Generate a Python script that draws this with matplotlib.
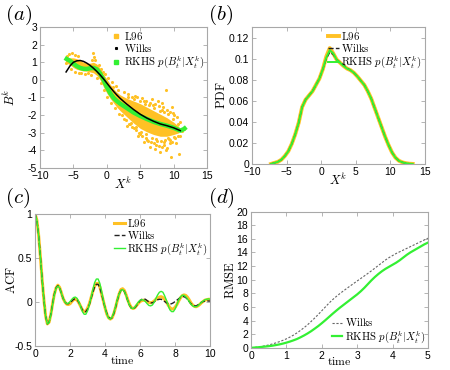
import numpy as np
import matplotlib.pyplot as plt
from matplotlib.lines import Line2D
from matplotlib.ticker import FormatStrFormatter

plt.rcParams['font.family'] = ['Liberation Sans', 'DejaVu Sans']
plt.rcParams['mathtext.fontset'] = 'cm'

orange = '#ffc125'
green = '#33f033'

# ---- panel (a): scatter of B^k against X^k
cloud_x = [-6.2, -5.5, -5.0, -4.5, -4.0, -3.5, -3.0, -2.5, -2.0, -1.5, -1.0, -0.5,
           0.0, 0.5, 1.0, 1.5, 2.0, 3.0, 4.0, 5.0, 6.0, 7.0, 8.0, 9.0, 10.0, 10.8]
cloud_lo = [1.0, 0.85, 0.7, 0.6, 0.55, 0.5, 0.5, 0.45, 0.4, 0.25, 0.0, -0.4,
            -0.75, -1.05, -1.3, -1.55, -1.75, -2.1, -2.45, -2.75, -2.95, -3.1, -3.2, -3.2, -3.1, -3.0]
cloud_hi = [1.25, 1.25, 1.25, 1.2, 1.1, 1.0, 0.95, 0.95, 1.0, 0.9, 0.65, 0.3,
            0.05, -0.25, -0.5, -0.7, -0.85, -1.05, -1.2, -1.35, -1.55, -1.75, -1.95, -2.15, -2.4, -2.65]

l96_x = [-6.0, -5.6, -5.2, -4.7, -4.3, -6.1, -5.3, -4.8, -4.2, -3.8, -3.3, -2.8, -2.3,
         -2.0, -1.9, -1.7, -2.2, -1.2, -0.8, -1.4, -0.9, -0.3, -0.4, 0.2, 0.1, 0.7, 0.6,
         1.2, 1.3, 2.5, 3.2, 3.8, 4.5, 5.2, 5.8, 6.5, 7.2, 7.8, 8.4, 9.0, 9.5, 10.1,
         8.9, 6.8, 7.6, 9.8, 10.5, 4.2, 5.5, 8.2, 2.2, 2.8, 3.3, 3.7, 4.3, 4.8, 5.3,
         5.8, 6.2, 6.6, 7.0, 7.4, 7.8, 8.2, 8.6, 9.0, 9.4, 9.8, 10.2, 10.6, 7.2, 8.0,
         8.8, 9.6, 10.8, 6.4, 5.6, 4.6, 3.0, 9.2, 10.4, 11.0, 11.3, 11.6, 10.9,
         6.0, 7.5, 8.5, 9.5, 5.0, 4.0, 3.5, 6.9, 8.3, 9.9,
         2.6, 3.6, 4.4, 5.1, 5.9, 6.7, 7.3, 8.1, 8.7, 9.3, 10.0, 10.6,
         3.1, 4.1, 4.9, 5.7, 6.3, 7.1, 7.9, 8.6, 9.2, 9.9, 1.8, 1.6, 0.9, -0.6]
l96_y = [1.35, 1.45, 1.5, 1.4, 1.35, 0.95, 0.6, 0.45, 0.4, 0.38, 0.35, 0.4, 0.3,
         1.5, 1.3, 1.15, 1.1, 0.85, 0.6, 0.1, -0.2, 0.35, -0.6, 0.1, -1.0, -0.1, -1.3,
         -1.6, -0.35, -0.7, -0.8, -0.95, -1.0, -1.05, -1.2, -1.3, -1.35, -1.5, -1.55, -1.7, -1.8, -2.0,
         -0.56, -1.1, -1.2, -1.55, -2.1, -0.9, -1.2, -1.3, -2.0, -2.3, -2.5, -2.7, -2.85, -3.0, -3.2,
         -3.3, -3.45, -3.5, -3.6, -3.7, -3.75, -3.8, -3.7, -3.85, -3.6, -3.5, -3.3, -3.2, -3.95, -4.1,
         -4.0, -4.35, -4.2, -3.8, -3.55, -3.2, -2.6, -3.3, -3.6, -3.2, -2.9, -2.8, -2.4,
         -3.4, -3.45, -3.55, -3.4, -3.05, -2.75, -2.5, -1.45, -1.7, -1.9,
         -2.2, -2.45, -2.7, -2.95, -3.1, -3.3, -3.35, -3.45, -3.4, -3.35, -3.25, -2.5,
         -0.95, -1.1, -1.2, -1.35, -1.45, -1.6, -1.75, -1.85, -1.95, -2.2, -1.95, -0.6, -0.4, 0.45]

wilks_x = [-6.1, -5.5, -5.0, -4.5, -4.0, -3.5, -3.0, -2.5, -2.0, -1.5, -1.0, -0.5, 0.0,
           0.5, 1.0, 1.5, 2.0, 2.5, 3.0, 4.0, 5.0, 6.0, 7.0, 8.0, 9.0, 10.0, 11.0]
wilks_y = [0.45, 0.8, 1.0, 1.08, 1.1, 1.05, 0.95, 0.82, 0.66, 0.48, 0.28, 0.06, -0.18,
           -0.42, -0.65, -0.86, -1.05, -1.22, -1.38, -1.68, -1.95, -2.17, -2.35, -2.5, -2.6, -2.72, -2.88]

rkhs_x = [-6.3, -6.0, -5.5, -5.0, -4.5, -4.0, -3.5, -3.0, -2.5, -2.0, -1.5, -1.0, -0.5, 0.0,
          0.5, 1.0, 1.5, 2.0, 3.0, 4.0, 5.0, 6.0, 7.0, 8.0, 9.0, 10.0, 11.0, 11.5, 11.9]
rkhs_y = [1.25, 1.18, 1.08, 0.92, 0.78, 0.68, 0.63, 0.62, 0.66, 0.68, 0.6, 0.36, 0.0, -0.4,
          -0.75, -1.02, -1.2, -1.35, -1.6, -1.85, -2.05, -2.22, -2.38, -2.5, -2.6, -2.72, -2.88, -2.8, -2.68]

# ---- panel (b): PDF of X^k
pdf_x = np.arange(-7.25, 13.3, 0.5)
pdf_l96 = [0.0, 0.001, 0.002, 0.004, 0.0075, 0.012, 0.019, 0.028, 0.039, 0.054,
           0.061, 0.065, 0.069, 0.075, 0.081, 0.090, 0.102, 0.110, 0.105, 0.099,
           0.096, 0.093, 0.0905, 0.089, 0.0865, 0.083, 0.079, 0.075, 0.069, 0.062,
           0.053, 0.044, 0.035, 0.026, 0.018, 0.011, 0.006, 0.003, 0.0015, 0.0007,
           0.0002, 0.0]
pdf_wilks = [0.0, 0.001, 0.002, 0.004, 0.0075, 0.012, 0.019, 0.028, 0.039, 0.054,
             0.061, 0.065, 0.069, 0.075, 0.081, 0.090, 0.100, 0.106, 0.104, 0.099,
             0.0965, 0.094, 0.091, 0.089, 0.0865, 0.083, 0.079, 0.075, 0.069, 0.062,
             0.053, 0.044, 0.035, 0.026, 0.018, 0.011, 0.006, 0.003, 0.0015, 0.0007,
             0.0002, 0.0]
pdf_rkhs = [0.0, 0.001, 0.002, 0.004, 0.0075, 0.012, 0.019, 0.028, 0.039, 0.054,
            0.061, 0.065, 0.069, 0.075, 0.081, 0.090, 0.101, 0.108, 0.105, 0.099,
            0.096, 0.093, 0.0905, 0.089, 0.0865, 0.083, 0.079, 0.075, 0.069, 0.062,
            0.053, 0.044, 0.035, 0.026, 0.018, 0.011, 0.006, 0.003, 0.0015, 0.0007,
            0.0002, 0.0]

# ---- panel (c): ACF
acf_t = np.arange(0, 10.01, 0.1)
acf_l96 = [1.0, 0.93, 0.76, 0.52, 0.26, 0.03, -0.16, -0.25, -0.23, -0.14,
           -0.02, 0.09, 0.16, 0.19, 0.165, 0.105, 0.04, 0.0, -0.025, -0.03,
           -0.02, 0.005, 0.025, 0.03, 0.02, -0.01, -0.05, -0.09, -0.11, -0.105,
           -0.07, -0.02, 0.05, 0.12, 0.18, 0.21, 0.21, 0.17, 0.09, 0.01,
           -0.07, -0.14, -0.18, -0.195, -0.18, -0.13, -0.06, 0.02, 0.09, 0.14,
           0.15, 0.13, 0.08, 0.02, -0.03, -0.065, -0.075, -0.065, -0.04, -0.015,
           0.005, 0.015, 0.02, 0.015, 0.005, -0.005, -0.01, -0.005, 0.01, 0.03,
           0.045, 0.055, 0.06, 0.05, 0.03, 0.0, -0.035, -0.065, -0.08, -0.08,
           -0.06, -0.03, 0.01, 0.045, 0.07, 0.08, 0.075, 0.055, 0.025, -0.01,
           -0.035, -0.05, -0.055, -0.045, -0.03, -0.01, 0.005, 0.02, 0.025, 0.03,
           0.03]
acf_wilks = [1.0, 0.93, 0.76, 0.52, 0.26, 0.03, -0.16, -0.25, -0.23, -0.14,
             -0.02, 0.09, 0.16, 0.185, 0.16, 0.10, 0.04, 0.0, -0.02, -0.02,
             -0.01, 0.01, 0.03, 0.035, 0.025, -0.005, -0.05, -0.09, -0.11, -0.11,
             -0.08, -0.03, 0.04, 0.11, 0.17, 0.2, 0.2, 0.16, 0.09, 0.01,
             -0.07, -0.13, -0.175, -0.19, -0.18, -0.13, -0.06, 0.02, 0.09, 0.13,
             0.14, 0.12, 0.07, 0.01, -0.04, -0.07, -0.075, -0.065, -0.04, -0.01,
             0.015, 0.03, 0.035, 0.03, 0.015, 0.0, -0.01, -0.01, 0.0, 0.015,
             0.025, 0.03, 0.03, 0.02, 0.005, -0.01, -0.02, -0.025, -0.02, -0.01,
             0.005, 0.02, 0.035, 0.05, 0.06, 0.06, 0.05, 0.03, 0.005, -0.02,
             -0.035, -0.045, -0.045, -0.035, -0.02, -0.005, 0.005, 0.01, 0.012, 0.01,
             0.01]
acf_rkhs = [1.0, 0.93, 0.76, 0.52, 0.26, 0.03, -0.16, -0.25, -0.235, -0.15,
            -0.03, 0.08, 0.155, 0.18, 0.16, 0.1, 0.04, 0.0, -0.02, -0.015,
            0.005, 0.03, 0.05, 0.055, 0.04, 0.0, -0.05, -0.11, -0.14, -0.14,
            -0.1, -0.03, 0.05, 0.14, 0.22, 0.26, 0.26, 0.21, 0.12, 0.02,
            -0.07, -0.14, -0.185, -0.195, -0.17, -0.12, -0.05, 0.03, 0.09, 0.13,
            0.14, 0.12, 0.07, 0.01, -0.04, -0.07, -0.075, -0.06, -0.03, 0.0,
            0.02, 0.025, 0.02, 0.005, -0.02, -0.04, -0.045, -0.035, -0.005, 0.04,
            0.08, 0.11, 0.12, 0.11, 0.07, 0.02, -0.04, -0.09, -0.11, -0.11,
            -0.08, -0.03, 0.02, 0.055, 0.075, 0.075, 0.06, 0.035, 0.005, -0.025,
            -0.045, -0.055, -0.055, -0.045, -0.025, -0.005, 0.01, 0.025, 0.03, 0.035,
            0.03]

# ---- panel (d): RMSE
rmse_t = np.arange(0, 5.01, 0.1)
rmse_wilks = [0.0, 0.05, 0.12, 0.2, 0.3, 0.42, 0.56, 0.72, 0.9, 1.1,
              1.32, 1.58, 1.87, 2.2, 2.57, 2.97, 3.4, 3.88, 4.38, 4.9,
              5.45, 6.0, 6.55, 7.05, 7.5, 7.92, 8.32, 8.7, 9.08, 9.45,
              9.82, 10.18, 10.55, 10.92, 11.3, 11.7, 12.1, 12.5, 12.9, 13.25,
              13.55, 13.85, 14.1, 14.35, 14.6, 14.85, 15.1, 15.35, 15.6, 15.85,
              16.1]
rmse_rkhs = [0.0, 0.04, 0.08, 0.13, 0.18, 0.24, 0.31, 0.4, 0.5, 0.62,
             0.76, 0.92, 1.1, 1.3, 1.55, 1.82, 2.12, 2.45, 2.82, 3.2,
             3.62, 4.06, 4.52, 4.98, 5.42, 5.85, 6.25, 6.65, 7.05, 7.45,
             7.85, 8.3, 8.8, 9.35, 9.9, 10.4, 10.85, 11.25, 11.6, 11.9,
             12.2, 12.5, 12.85, 13.25, 13.65, 14.0, 14.3, 14.6, 14.9, 15.2,
             15.45]

lab_l96 = r'$\mathrm{L96}$'
lab_wilks = r'$\mathrm{Wilks}$'
lab_rkhs = r'$\mathrm{RKHS}\ p(B_t^k|X_t^k)$'


def style(ax):
    for s in ax.spines.values():
        s.set_color('#a8a8a8')
        s.set_linewidth(0.8)
    ax.tick_params(direction='in', length=3, width=0.6, color='#a8a8a8',
                   labelsize=7.5, top=True, right=True, pad=2)
    ax.yaxis.set_major_formatter(FormatStrFormatter('%g'))


def leg(ax, handles, loc):
    ax.legend(handles=handles, loc=loc, frameon=False, fontsize=7.8,
              handlelength=1.0, handletextpad=0.2, labelspacing=0.0,
              borderaxespad=0.1, borderpad=0.15)


fig = plt.figure(figsize=(4.5, 3.7), dpi=100)
ax_a = fig.add_axes([0.089, 0.546, 0.371, 0.381])
ax_b = fig.add_axes([0.560, 0.557, 0.384, 0.370])
ax_c = fig.add_axes([0.078, 0.065, 0.389, 0.357])
ax_d = fig.add_axes([0.558, 0.060, 0.393, 0.368])

# (a)
ax_a.fill_between(cloud_x, cloud_lo, cloud_hi, color=orange, lw=0)
ax_a.scatter(l96_x, l96_y, s=5, color=orange, lw=0)
ax_a.plot(rkhs_x, rkhs_y, color=green, lw=3.2, solid_capstyle='butt')
ax_a.plot(wilks_x, wilks_y, color='k', lw=1.1)
ax_a.set_xlim(-10, 15)
ax_a.set_ylim(-5, 3)
ax_a.set_xticks(range(-10, 16, 5))
ax_a.set_yticks(range(-5, 4))
ax_a.set_xlabel(r'$X^k$', fontsize=9)
ax_a.xaxis.set_label_coords(0.5, -0.06)
ax_a.set_ylabel(r'$B^k$', fontsize=9)
ax_a.yaxis.set_label_coords(-0.13, 0.5)
style(ax_a)
leg(ax_a, [Line2D([], [], ls='', marker='s', ms=2.5, color=orange, label=lab_l96),
           Line2D([], [], ls='', marker='s', ms=1.2, color='k', label=lab_wilks),
           Line2D([], [], ls='', marker='s', ms=2.5, color=green, label=lab_rkhs)],
    'upper right')

# (b)
ax_b.plot(pdf_x, pdf_l96, color=orange, lw=2.8, label=lab_l96)
ax_b.plot(pdf_x, pdf_wilks, color='#222222', lw=1.0, ls='--', label=lab_wilks)
ax_b.plot(pdf_x, pdf_rkhs, color=green, lw=1.4, label=lab_rkhs)
ax_b.set_xlim(-10, 15)
ax_b.set_ylim(0, 0.13)
ax_b.set_xticks(range(-10, 16, 5))
ax_b.set_yticks(np.arange(0, 0.121, 0.02))
ax_b.set_xlabel(r'$X^k$', fontsize=9)
ax_b.xaxis.set_label_coords(0.5, -0.06)
ax_b.set_ylabel(r'$\mathrm{PDF}$', fontsize=9)
ax_b.yaxis.set_label_coords(-0.14, 0.5)
style(ax_b)
leg(ax_b, None, 'upper right')

# (c)
ax_c.plot(acf_t, acf_l96, color=orange, lw=2.2, label=lab_l96)
ax_c.plot(acf_t, acf_wilks, color='#222222', lw=1.0, ls='--', label=lab_wilks)
ax_c.plot(acf_t, acf_rkhs, color=green, lw=1.0, label=lab_rkhs)
ax_c.set_xlim(0, 10)
ax_c.set_ylim(-0.5, 1)
ax_c.set_xticks(range(0, 11, 2))
ax_c.set_yticks([-0.5, 0, 0.5, 1])
ax_c.set_xlabel(r'$\mathrm{time}$', fontsize=8.5)
ax_c.xaxis.set_label_coords(0.5, -0.065)
ax_c.set_ylabel(r'$\mathrm{ACF}$', fontsize=9)
ax_c.yaxis.set_label_coords(-0.1, 0.5)
style(ax_c)
leg(ax_c, None, 'upper right')

# (d)
ax_d.plot(rmse_t, rmse_wilks, color='#666666', lw=0.8, ls=(0, (2, 1.5)), label=lab_wilks)
ax_d.plot(rmse_t, rmse_rkhs, color=green, lw=1.6, label=lab_rkhs)
ax_d.set_xlim(0, 5)
ax_d.set_ylim(0, 20)
ax_d.set_xticks(range(0, 6))
ax_d.set_yticks(range(0, 21, 2))
ax_d.set_xlabel(r'$\mathrm{time}$', fontsize=8.5)
ax_d.xaxis.set_label_coords(0.5, -0.06)
ax_d.set_ylabel(r'$\mathrm{RMSE}$', fontsize=9)
ax_d.yaxis.set_label_coords(-0.08, 0.5)
style(ax_d)
leg(ax_d, None, 'lower right')

for lab, x, y in [('(a)', 0.012, 0.945), ('(b)', 0.462, 0.945),
                  ('(c)', 0.012, 0.452), ('(d)', 0.462, 0.452)]:
    fig.text(x, y, r'$' + lab + '$', fontsize=15)

fig.savefig('out.png', dpi=100)
